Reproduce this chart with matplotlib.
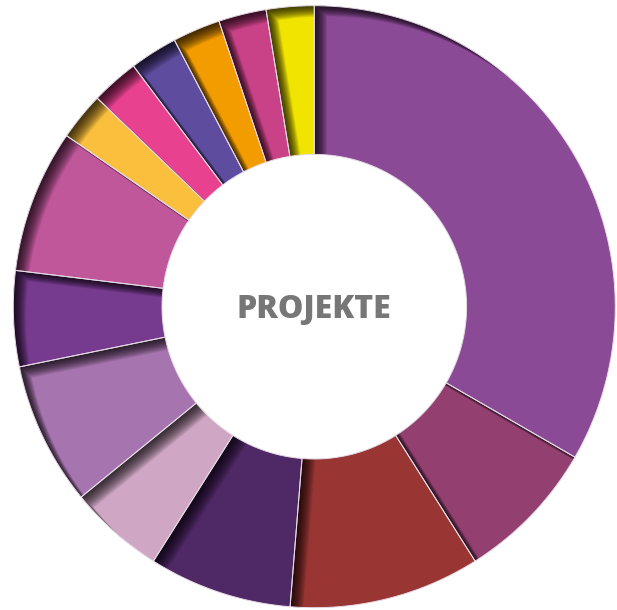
import numpy as np
import matplotlib
matplotlib.use("Agg")
import matplotlib.pyplot as plt
from matplotlib.path import Path
from matplotlib.patches import PathPatch

# Daten
werte = [13, 3, 4, 3, 2, 3, 2, 3, 1, 1, 1, 1, 1, 1]
farben = ['#8B4A96', '#934071', '#993634', '#4F2866', '#CFA6C4', '#A674AE', '#763A8E',
          '#C0579A', '#FBBF3E', '#E8418F', '#5E4C9E', '#F39C00', '#C94186', '#F0E400']
titel = "PROJEKTE"

fig = plt.figure(figsize=(6.17, 6.10), dpi=100)
ax = fig.add_axes([0, 0, 1, 1])

# Donut
wedges, _ = ax.pie(werte, colors=farben, startangle=90, counterclock=False,
                   radius=1.0, wedgeprops=dict(width=0.494, linewidth=0))


def sektor(w, dx=0.0, dy=0.0, innen=True, n=120):
    t = np.radians(np.linspace(w.theta1, w.theta2, n))
    xo = w.r * np.cos(t)
    yo = w.r * np.sin(t)
    if innen:
        r_in = w.r - w.width
        xi = r_in * np.cos(t[::-1])
        yi = r_in * np.sin(t[::-1])
    else:
        xi = np.array([0.0])
        yi = np.array([0.0])
    x = np.concatenate([xo, xi, xo[:1]]) + dx
    y = np.concatenate([yo, yi, yo[:1]]) + dy
    return np.column_stack([x, y])


# innerer Schatten an oberen/linken Kanten (nicht am Innenkreis)
big = np.array([[-3, -3], [3, -3], [3, 3], [-3, 3], [-3, -3]])
n_lagen = 16
for w in wedges:
    for k in range(1, n_lagen + 1):
        s = k / n_lagen
        poly = sektor(w, dx=0.042 * s, dy=-0.036 * s, innen=False)[::-1]
        verts = np.concatenate([big, poly])
        codes = ([Path.MOVETO] + [Path.LINETO] * 3 + [Path.CLOSEPOLY] +
                 [Path.MOVETO] + [Path.LINETO] * (len(poly) - 2) + [Path.CLOSEPOLY])
        p = PathPatch(Path(verts, codes), facecolor='black', edgecolor='none',
                      alpha=0.075, zorder=3)
        ax.add_patch(p)
        p.set_clip_path(w)

# helle Trennlinien
for w in wedges:
    poly = sektor(w)
    ax.plot(poly[:, 0], poly[:, 1], color='#e6dbe6', linewidth=0.7, zorder=4)

ax.text(0.0, -0.012, titel, ha='center', va='center', fontsize=23,
        fontweight='heavy', color='#777777', family=['Open Sans', 'DejaVu Sans'])

ax.set_xlim(-1.0442, 1.0057)
ax.set_ylim(-1.0076, 1.0189)
ax.set_aspect('auto')
ax.axis('off')

fig.savefig('out.png', dpi=100, facecolor='white')
